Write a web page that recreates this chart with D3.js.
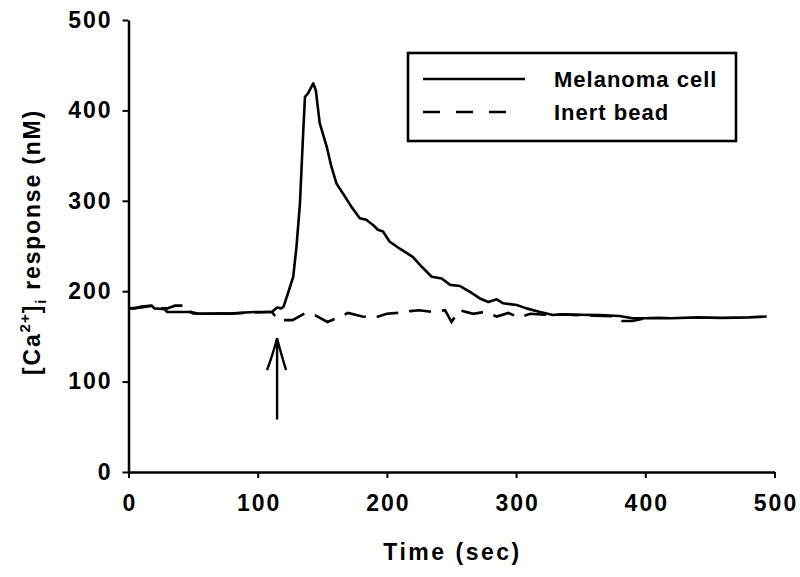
<!DOCTYPE html>
<html>
<head>
<meta charset="utf-8">
<script src="https://cdn.jsdelivr.net/npm/d3@7"></script>
<style>
  body { margin: 0; background: #fff; }
  text { font-family: "Liberation Sans", Arial, sans-serif; font-weight: bold; fill: #000; }
</style>
</head>
<body>
<div id="my_dataviz"></div>
<script>
// data (time in sec, [Ca2+]i in nM)
var cellTime = [0, 5, 10, 18, 20, 28, 30, 48, 50, 55, 70, 80, 90, 100, 108, 111, 115, 118.5, 120,
    123.5, 127.5, 130, 132.7, 134, 135.3, 136.6, 139, 143, 145, 148, 153.4, 157, 161, 166, 172.7,
    179, 184, 189.5, 193, 197, 202, 210, 220, 227, 234.7, 242.4, 249, 256.6, 264, 272, 278.5, 285,
    290, 300.5, 308, 318.5, 328.6, 335, 350, 365, 380, 390, 400, 410, 420, 440, 460, 480, 494];
var cellValue = [181, 181, 183, 184, 181, 180, 177, 177, 175.5, 175, 175.5, 175, 176.5, 177, 177, 177, 182, 181, 183,
    198, 216, 249, 297, 338, 378, 415, 419, 430, 422, 386, 360, 338, 319, 308, 293,
    280.6, 279, 273, 268, 266, 255, 247, 238, 227, 216, 214, 207, 205.7, 199.5, 192, 188, 191,
    186.6, 184.7, 181, 177, 173.7, 174.5, 174, 173.5, 172.5, 170, 170, 170.5, 170, 171, 170.5, 171, 172];

var beadTime = [0, 10, 18, 25, 30, 36, 46, 48, 55, 70, 90, 108, 111, 116, 127, 137, 145, 154,
    164, 170, 181, 191, 200, 208, 218, 225, 236, 245, 250, 256, 267, 275, 285, 294, 302, 311,
    322, 340, 360, 378, 382, 390, 400];
var beadValue = [181, 182, 184, 181, 181, 184, 184, 177, 175, 175, 176, 177, 177, 168, 168, 176, 173, 166,
    172, 176, 172, 171, 175, 176, 178, 179, 177, 179, 166, 179, 175, 177, 172, 176, 171, 175,
    174, 174, 173, 172, 167, 167, 170];

var xTicks = [0, 100, 200, 300, 400, 500];
var yTicks = [0, 100, 200, 300, 400, 500];
var seriesNames = ["Melanoma cell", "Inert bead"];

// arrow marking the stimulus
var arrowTime = 115, arrowFrom = 58, arrowTo = 148;

// set the dimensions and margins of the graph
var margin = {top: 20, right: 25.5, bottom: 105, left: 128.5},
    width = 800 - margin.left - margin.right,
    height = 577 - margin.top - margin.bottom;

var svg = d3.select("#my_dataviz")
    .append("svg")
    .attr("width", 800)
    .attr("height", 577)
    .append("g")
    .attr("transform", "translate(" + margin.left + "," + margin.top + ")");

var x = d3.scaleLinear().domain([0, 500]).range([0, width]);
var y = d3.scaleLinear().domain([0, 500]).range([height, 0]);

// X axis
var xAxis = svg.append("g")
    .attr("transform", "translate(0," + height + ")")
    .call(d3.axisBottom(x).tickValues(xTicks).tickSize(6).tickSizeOuter(0).tickPadding(17));

// Y axis
var yAxis = svg.append("g")
    .call(d3.axisLeft(y).tickValues(yTicks).tickSize(6).tickSizeOuter(0).tickPadding(10));

[xAxis, yAxis].forEach(function (g) {
    g.select(".domain").attr("stroke", "#000").attr("stroke-width", 2.5);
    g.selectAll(".tick line").attr("stroke", "#000").attr("stroke-width", 2);
    g.selectAll(".tick text")
        .style("font-size", "23px")
        .style("letter-spacing", "2px")
        .style("font-family", "'Liberation Sans', Arial, sans-serif")
        .style("font-weight", "bold")
        .attr("fill", "#000");
});
xAxis.selectAll(".tick text").attr("dx", 1);

// axis titles
svg.append("text")
    .attr("x", width / 2 + 1)
    .attr("y", height + 88)
    .attr("text-anchor", "middle")
    .style("font-size", "23px")
    .style("letter-spacing", "2.5px")
    .text("Time (sec)");

var yTitle = svg.append("text")
    .attr("transform", "translate(" + (-89) + "," + (height / 2 - 4) + ") rotate(-90)")
    .attr("text-anchor", "middle")
    .style("font-size", "23px")
    .style("letter-spacing", "1.8px");
yTitle.append("tspan").text("[Ca");
yTitle.append("tspan").attr("dy", -10).style("font-size", "15px").style("letter-spacing", "1px").text("2+");
yTitle.append("tspan").attr("dy", 10).text("]");
yTitle.append("tspan").attr("dy", 6).style("font-size", "15px").text("i");
yTitle.append("tspan").attr("dy", -6).text(" response (nM)");

// lines
var cellData = cellTime.map(function (t, i) { return {t: t, v: cellValue[i]}; });
var beadData = beadTime.map(function (t, i) { return {t: t, v: beadValue[i]}; });

var line = d3.line()
    .x(function (d) { return x(d.t); })
    .y(function (d) { return y(d.v); });

svg.append("path")
    .datum(beadData)
    .attr("fill", "none")
    .attr("stroke", "#000")
    .attr("stroke-width", 2.6)
    .attr("stroke-dasharray", "22,11")
    .attr("d", line);

svg.append("path")
    .datum(cellData)
    .attr("fill", "none")
    .attr("stroke", "#000")
    .attr("stroke-width", 2.6)
    .attr("stroke-linejoin", "round")
    .attr("d", line);

// arrow
var ax = x(arrowTime), ay0 = y(arrowFrom), ay1 = y(arrowTo);
svg.append("path")
    .attr("fill", "none")
    .attr("stroke", "#000")
    .attr("stroke-width", 2.4)
    .attr("d", "M" + ax + "," + ay0 + "V" + ay1 +
        "M" + (ax - 10) + "," + (ay1 + 32) + "Q" + (ax - 3) + "," + (ay1 + 12) + " " + ax + "," + ay1 +
        "Q" + (ax + 3) + "," + (ay1 + 12) + " " + (ax + 9) + "," + (ay1 + 32));

// legend
var legend = svg.append("g").attr("transform", "translate(" + (408 - margin.left) + "," + (53 - margin.top) + ")");
legend.append("rect")
    .attr("width", 328).attr("height", 88)
    .attr("fill", "#fff").attr("stroke", "#000").attr("stroke-width", 2.6);

seriesNames.forEach(function (name, i) {
    var ly = 26 + i * 33;
    legend.append("line")
        .attr("x1", 15).attr("x2", i === 0 ? 117 : 108)
        .attr("y1", ly).attr("y2", ly)
        .attr("stroke", "#000").attr("stroke-width", 2.6)
        .attr("stroke-dasharray", i === 0 ? null : "17,16");
    legend.append("text")
        .attr("x", 146).attr("y", ly)
        .attr("dy", "0.36em")
        .style("font-size", "22px")
        .style("letter-spacing", "1px")
        .text(name);
});
</script>
</body>
</html>
